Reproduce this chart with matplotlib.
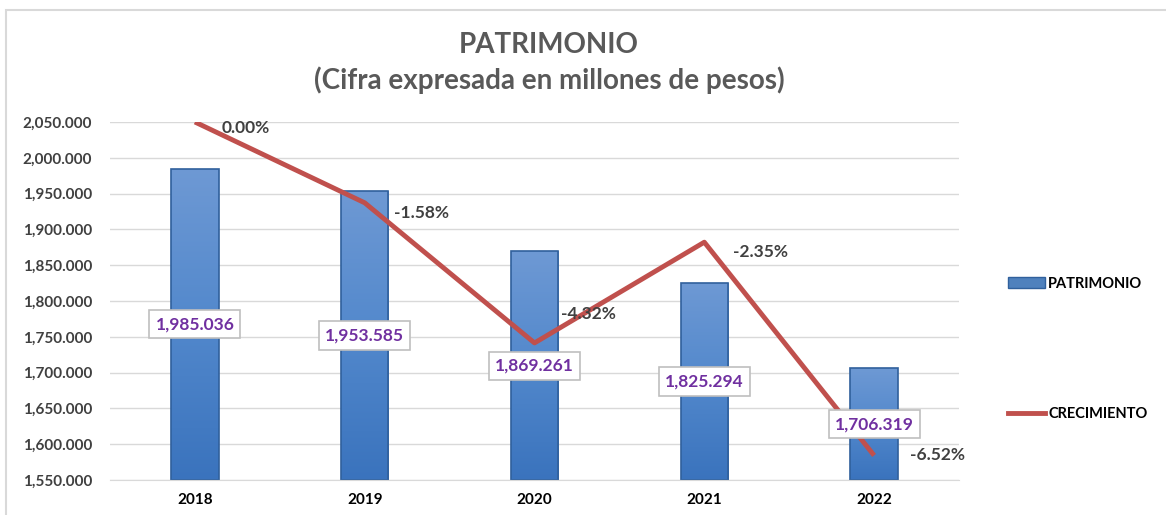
import matplotlib.pyplot as plt
import numpy as np
from matplotlib.colors import LinearSegmentedColormap
from matplotlib.lines import Line2D
from matplotlib.patches import Patch, Rectangle

years = ['2018', '2019', '2020', '2021', '2022']
patrimonio = [1985.036, 1953.585, 1869.261, 1825.294, 1706.319]
crecimiento = [0.00, -1.58, -4.32, -2.35, -6.52]
y_ticks = [1550, 1600, 1650, 1700, 1750, 1800, 1850, 1900, 1950, 2000, 2050]

plt.rcParams['font.family'] = ['Lato', 'DejaVu Sans']

fig = plt.figure(figsize=(11.66, 5.15), dpi=100)
ax = fig.add_axes([110 / 1166, 1 - 480 / 515, 849 / 1166, 358 / 515])

# frame around the chart
fig.patches.append(Rectangle((6 / 1166, -0.1), 1.2, 1 - 10 / 515 + 0.1,
                             transform=fig.transFigure, fill=False,
                             edgecolor='#d9d9d9', linewidth=1.5))

x = np.arange(len(years))
bars = ax.bar(x, [v - y_ticks[0] for v in patrimonio], bottom=y_ticks[0], width=0.28,
              color='#4f81bd', linewidth=0, zorder=2)

# vertical gradient on each bar, darker at the bottom
grad = np.linspace(0, 1, 256).reshape(-1, 1)
cmap = LinearSegmentedColormap.from_list('b', ['#3a73bd', '#5288cc', '#6e99d4'])
for b in bars:
    x0, y0 = b.get_x(), b.get_y()
    im = ax.imshow(grad, extent=[x0, x0 + b.get_width(), y0, y0 + b.get_height()],
                   origin='lower', aspect='auto', cmap=cmap, zorder=2)
    im.set_clip_path(b)
    ax.add_patch(Rectangle((x0, y0), b.get_width(), b.get_height(), fill=False,
                           edgecolor='#30609c', linewidth=1.2, zorder=2.1))

ax.set_xlim(-0.5, len(years) - 0.5)
ax.set_ylim(y_ticks[0], y_ticks[-1])
ax.set_yticks(y_ticks)
ax.set_yticklabels([f'{t:,.3f}' for t in y_ticks], color='#404040', fontsize=11, fontweight='bold')
ax.set_xticks(x)
ax.set_xticklabels(years, fontsize=11, fontweight='bold', color='black')
ax.tick_params(length=0, pad=9)
ax.tick_params(axis='y', pad=13)
ax.grid(axis='y', color='#d9d9d9', linewidth=1, zorder=0)
ax.set_axisbelow(True)
for s in ['top', 'right', 'left']:
    ax.spines[s].set_visible(False)
ax.spines['bottom'].set_color('#d9d9d9')

ax2 = ax.twinx()
ax2.set_ylim(-7.0, 0.0)
ax2.set_axis_off()
ax2.plot(x, crecimiento, color='#c0504d', linewidth=3.5, solid_capstyle='butt', zorder=3)

# bar value labels sit above the line
for xi, v in zip(x, patrimonio):
    ax2.text(xi, (y_ticks[0] + v) / 2, f'{v:,.3f}', transform=ax.transData,
             ha='center', va='center', color='#7030a0', fontsize=12.5, fontweight='bold', zorder=5,
             bbox=dict(boxstyle='square,pad=0.35', facecolor='white', edgecolor='#bfbfbf', linewidth=1.2))

offsets = [(19, -4), (21, -7), (19, 21), (21, -7), (26, 0)]
for xi, v, off in zip(x, crecimiento, offsets):
    ax2.annotate(f'{v:.2f}%', (xi, v), xytext=off, textcoords='offset points',
                 ha='left', va='center', color='#404040', fontsize=12.5, fontweight='bold',
                 annotation_clip=False, zorder=4)

fig.text(549 / 1166, 1 - 45 / 515, 'PATRIMONIO', ha='center', va='center',
         fontsize=20, fontweight='bold', color='#595959')
fig.text(549 / 1166, 1 - 80 / 515, '(Cifra expresada en millones de pesos)', ha='center', va='center',
         fontsize=20, fontweight='bold', color='#595959')

handles = [Patch(facecolor='#4f81bd', edgecolor='#30609c'),
           Line2D([0], [0], color='#c0504d', linewidth=3.5)]
fig.legend(handles, ['PATRIMONIO', 'CRECIMIENTO'], loc='center left',
           bbox_to_anchor=(995 / 1166, 1 - 349 / 515), frameon=False,
           labelspacing=8.0, handlelength=2.5, handletextpad=0.25,
           prop={'size': 10.5, 'weight': 'bold'})

fig.savefig('out.png', dpi=100)
